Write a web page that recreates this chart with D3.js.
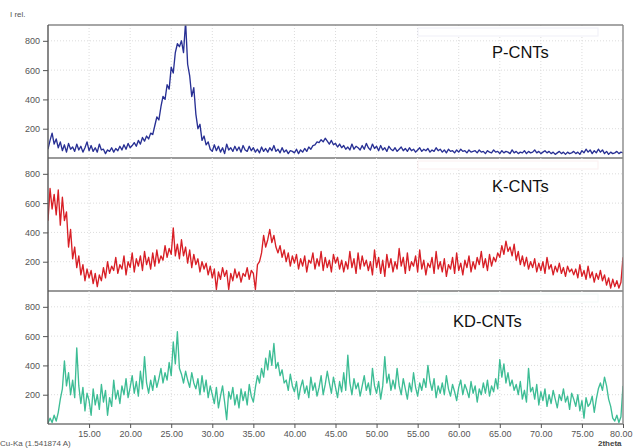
<!DOCTYPE html>
<html>
<head>
<meta charset="utf-8">
<script src="https://cdn.jsdelivr.net/npm/d3@7"></script>
<style>
  body { margin: 0; background: #fff; }
  .main { width: 633px; height: 448px; }
</style>
</head>
<body>
<div class="main"></div>
<script>
// 2theta grid: 10 .. 80, step 0.25
const x_start = 10, x_step = 0.25

const pcnt = [
  60,120,170,95, 130,70,110,50, 90,40,100,60, 75,45,95,55, 80,40,70,110,
  50,85,45,70, 40,95,55,60, 30,55,45,70, 40,65,50,80, 55,90,60,100,
  70,85,105,80, 120,95,140,115, 150,130,170,160, 220,280,260,350, 420,400,500,470,
  620,580,720,780, 760,800,720,930, 640,560,420,480, 300,200,230,120, 150,90,110,60,
  45,90,50,80, 40,70,30,95, 55,70,45,80, 50,75,40,85, 55,45,80,50,
  70,40,60,35, 75,45,65,40, 70,50,85,45, 60,35,70,40, 55,30,50,45,
  35,60,30,55, 40,65,45,75, 60,85,90,110, 105,125,110,135, 115,95,120,90,
  100,75,95,70, 85,60,75,55, 95,60,80,70, 55,85,60,100, 70,55,95,65,
  80,50,85,55, 70,45,80,60, 50,70,45,60, 75,50,65,45, 70,50,60,40,
  55,70,45,60, 50,65,40,55, 45,70,50,60, 40,55,35,60, 45,50,35,55,
  40,60,45,50, 35,55,40,45, 50,35,55,40, 45,30,50,40, 35,55,40,45,
  30,50,35,45, 40,30,55,35, 45,30,40,35, 50,30,45,35, 40,55,35,45,
  30,40,50,35, 45,30,40,25, 35,45,30,40, 25,40,30,35, 45,30,40,25,
  50,35,60,40, 55,30,50,35, 60,40,55,30, 45,25,40,30, 35,45,30,40,
  35
]

const kcnt = [
  480,700,560,660, 520,690,450,640, 480,540,300,420, 220,300,160,240, 110,180,70,150,
  90,140,50,120, 30,110,70,160, 90,200,120,170, 140,230,120,180, 150,240,110,200,
  160,260,130,220, 170,240,140,270, 180,230,150,260, 170,280,190,240, 210,310,230,290,
  250,430,240,320, 220,350,240,300, 190,280,160,250, 180,220,130,200, 150,190,110,170,
  90,150,10,130, 80,160,100,140, 10,120,70,150, 90,130,60,120, 100,160,80,140,
  120,10,180,200, 260,380,300,350, 420,330,380,300, 260,310,230,280, 200,260,170,240,
  190,250,150,220, 170,240,130,210, 190,260,150,220, 170,270,140,230, 160,210,130,250,
  190,230,150,210, 130,200,150,270, 160,220,120,260, 150,240,170,210, 140,200,110,280,
  160,230,120,210, 100,250,160,220, 130,200,150,290, 170,230,120,260, 140,200,170,240,
  130,280,150,210, 110,190,160,230, 120,270,150,200, 130,220,100,180, 150,230,120,260,
  140,190,110,210, 160,240,130,200, 150,230,180,270, 160,220,140,250, 170,230,200,260,
  230,310,250,340, 270,300,240,320, 210,270,180,240, 170,230,150,200, 160,220,130,190,
  140,200,120,230, 150,180,110,170, 130,190,120,160, 100,170,130,150, 110,150,90,180,
  100,140,80,170, 90,130,60,120, 80,140,70,110, 40,90,20,80, 30,70,20,60,
  230
]

const kdcnt = [
  5,40,10,60, 20,80,170,240, 430,260,350,200, 300,180,520,260, 140,250,90,210,
  160,60,240,130, 200,100,270,150, 230,60,180,120, 300,170,230,140, 260,200,310,180,
  250,330,210,290, 190,360,240,460, 280,210,300,230, 330,250,310,380, 280,350,300,420,
  330,560,410,630, 380,340,280,360, 300,250,350,280, 240,310,200,330, 220,300,180,260,
  200,140,250,110, 190,260,150,30, 220,170,250,130, 200,110,240,160, 220,130,270,190,
  150,250,330,280, 380,320,450,370, 500,400,550,380, 420,330,370,280, 300,230,340,260,
  220,290,170,250, 300,210,260,180, 320,230,280,190, 250,330,200,270, 360,280,210,320,
  250,180,290,220, 350,230,470,280, 200,310,240,280, 190,260,330,230, 280,200,380,260,
  210,290,170,260, 460,280,340,230, 300,240,380,260, 200,310,240,170, 280,220,350,250,
  190,280,230,310, 250,400,290,230, 310,180,260,210, 280,200,330,240, 190,270,220,160,
  250,300,200,270, 230,180,290,210, 260,150,240,200, 280,210,300,190, 260,220,310,240,
  440,320,410,280, 350,260,300,230, 270,200,290,170, 230,150,380,220, 250,170,270,130,
  220,160,240,120, 200,140,230,170, 110,200,160,240, 150,190,100,210, 170,120,200,90,
  160,40,180,120, 140,190,80,170, 240,280,230,320, 260,170,120,40, 20,60,10,50,
  260
]

const series = [
  { name: "P-CNTs", values: pcnt, color: "#283094", label: [492, 58] },
  { name: "K-CNTs", values: kcnt, color: "#d81f26", label: [492, 192] },
  { name: "KD-CNTs", values: kdcnt, color: "#3dbd95", label: [453, 327] }
]

const xTicks = [15, 20, 25, 30, 35, 40, 45, 50, 55, 60, 65, 70, 75, 80]
const yTicks = [200, 400, 600, 800]

const W = 633, H = 448
const plotL = 48, plotR = 623, plotT = 25, panelH = 133

const svg = d3.select(".main")
    .append("svg")
    .attr("width", W)
    .attr("height", H)
    .style("font-family", "'Liberation Sans', Arial, sans-serif")

const x = d3.scaleLinear().domain([10, 80]).range([plotL, plotR])

series.forEach((s, i) => {
    const y0 = plotT + i * panelH
    const y = d3.scaleLinear().domain([0, 908]).range([y0 + panelH, y0])
    const g = svg.append("g")

    // dotted grid
    g.selectAll(".vg").data(xTicks.slice(0, -1)).join("line")
        .attr("x1", d => x(d)).attr("x2", d => x(d))
        .attr("y1", y0).attr("y2", y0 + panelH)
        .attr("stroke", "#dcdcdc").attr("stroke-dasharray", "1,2")
    g.selectAll(".hg").data(yTicks).join("line")
        .attr("x1", plotL).attr("x2", plotR)
        .attr("y1", d => y(d)).attr("y2", d => y(d))
        .attr("stroke", "#dcdcdc").attr("stroke-dasharray", "1,2")

    // y axis
    const ax = g.append("g")
        .attr("transform", `translate(${plotL},0)`)
        .call(d3.axisLeft(y).tickValues(yTicks).tickSize(5).tickPadding(3))
    ax.select(".domain").remove()
    ax.selectAll("line").attr("stroke", "#555")
    ax.selectAll("text").attr("fill", "#555").style("font-size", "9px")

    svg.append("clipPath").attr("id", "clip" + i)
        .append("rect").attr("x", plotL).attr("y", y0)
        .attr("width", plotR - plotL).attr("height", panelH)

    const line = d3.line()
        .x((d, j) => x(x_start + j * x_step))
        .y(d => y(d))

    g.append("path")
        .datum(s.values)
        .attr("clip-path", `url(#clip${i})`)
        .attr("d", line)
        .attr("fill", "none")
        .attr("stroke", s.color)
        .attr("stroke-width", 1.35)
        .attr("stroke-linejoin", "round")

    // faint leftover legend box
    g.append("rect")
        .attr("x", 418).attr("y", y0 + 3)
        .attr("width", 180).attr("height", 8)
        .attr("fill", "#fff")
        .attr("stroke", s.color).attr("stroke-opacity", 0.07)

    g.append("text")
        .attr("x", s.label[0]).attr("y", s.label[1])
        .attr("font-size", 16.5)
        .attr("fill", "#111")
        .text(s.name)

    // panel baseline
    g.append("line")
        .attr("x1", plotL).attr("x2", plotR)
        .attr("y1", y0 + panelH).attr("y2", y0 + panelH)
        .attr("stroke", "#777").attr("stroke-width", 1.6)
})

// frame
svg.append("line").attr("x1", plotL).attr("x2", plotR).attr("y1", plotT).attr("y2", plotT)
    .attr("stroke", "#888").attr("stroke-width", 1.4)
svg.append("line").attr("x1", plotL).attr("x2", plotL).attr("y1", plotT).attr("y2", plotT + 3 * panelH)
    .attr("stroke", "#555").attr("stroke-width", 1.4)
svg.append("line").attr("x1", plotR).attr("x2", plotR).attr("y1", plotT).attr("y2", plotT + 3 * panelH)
    .attr("stroke", "#888").attr("stroke-width", 1.4)

// x axis
const xa = svg.append("g")
    .attr("transform", `translate(0,${plotT + 3 * panelH})`)
    .call(d3.axisBottom(x).tickValues(xTicks).tickFormat(d3.format(".2f")).tickSize(4).tickPadding(3))
xa.select(".domain").remove()
xa.selectAll("line").attr("stroke", "#555")
xa.selectAll("text").attr("fill", "#555").style("font-size", "9px")
// last label sits against the edge as in the original
xa.selectAll("text").filter(d => d === 80).attr("text-anchor", "end").attr("dx", 9)

svg.append("text").attr("x", 10).attr("y", 17)
    .attr("font-size", 8).attr("fill", "#555").text("I rel.")
svg.append("text").attr("x", 0).attr("y", 446)
    .attr("font-size", 8).attr("fill", "#555").text("Cu-Ka (1.541874 A)")
svg.append("text").attr("x", 598).attr("y", 446)
    .attr("font-size", 8).attr("font-weight", "bold").attr("fill", "#444").text("2theta")
</script>
</body>
</html>
